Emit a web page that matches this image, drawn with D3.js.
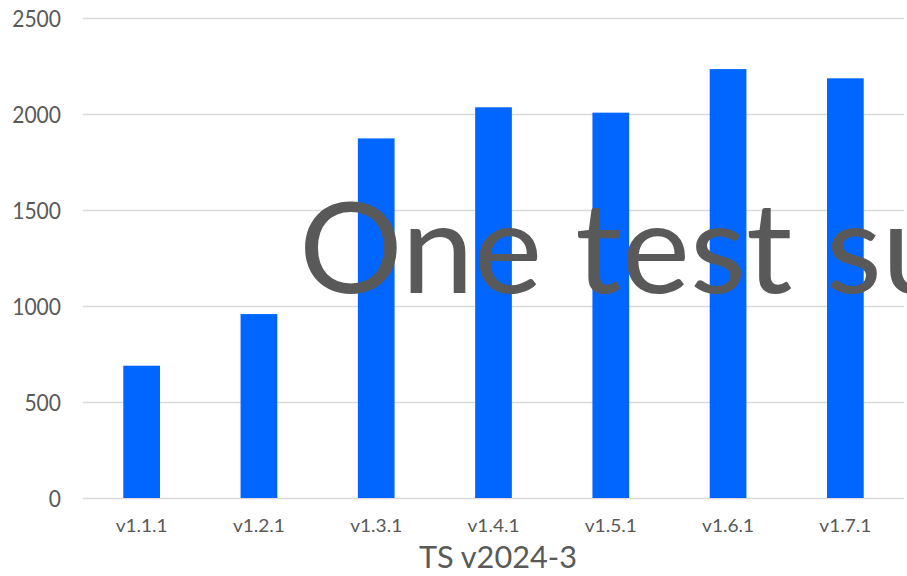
<!DOCTYPE html>
<html>
<head>
<meta charset="utf-8">
<script src="https://cdn.jsdelivr.net/npm/d3@7/dist/d3.min.js"></script>
<style>
  html, body { margin: 0; padding: 0; background: #ffffff; overflow: hidden; }
  svg { display: block; }
  text { font-family: Lato, "Open Sans", sans-serif; fill: #595959; }
</style>
</head>
<body>
<script>
// ---- data ----
const categories = ["v1.1.1", "v1.2.1", "v1.3.1", "v1.4.1", "v1.5.1", "v1.6.1", "v1.7.1"];
const values = [689, 958, 1873, 2035, 2007, 2234, 2186];
const yTicks = [0, 500, 1000, 1500, 2000, 2500];
const xAxisTitle = "TS v2024-3";
const overlayText = "One test su";

// ---- layout ----
const W = 907, H = 576;
const svg = d3.select("body").append("svg").attr("width", W).attr("height", H);

const x = d3.scaleBand().domain(categories).range([83, 904])
  .paddingInner(0.687).paddingOuter(0.3435);
const y = d3.scaleLinear().domain([0, 2500]).range([498, 18]);

// gridlines via axis
const grid = svg.append("g").attr("transform", "translate(83,0)")
  .call(d3.axisLeft(y).tickValues(yTicks).tickSize(-(904 - 83)).tickFormat(""));
grid.select(".domain").remove();
grid.selectAll(".tick line").attr("stroke", "#d9d9d9").attr("stroke-width", 1.4);

// y tick labels
const yAx = svg.append("g").attr("transform", "translate(61,0)")
  .call(d3.axisLeft(y).tickValues(yTicks).tickFormat(d3.format("d")).tickSize(0).tickPadding(0));
yAx.select(".domain").remove();
yAx.selectAll(".tick text")
  .attr("fill", "#595959").attr("font-size", 22.5).attr("font-family", "Lato")
  .attr("dy", "0.36em")
  .attr("textLength", d => String(d).length * 12.2)
  .attr("lengthAdjust", "spacingAndGlyphs");

// bars
svg.append("g").selectAll("rect").data(values).join("rect")
  .attr("x", (d, i) => x(categories[i]))
  .attr("width", x.bandwidth())
  .attr("y", d => y(d))
  .attr("height", d => y(0) - y(d))
  .attr("fill", "#0066ff");

// x tick labels
const xAx = svg.append("g").attr("transform", "translate(0,498)")
  .call(d3.axisBottom(x).tickSize(0).tickPadding(0));
xAx.select(".domain").remove();
xAx.selectAll(".tick text")
  .attr("fill", "#595959").attr("font-size", 16.5).attr("font-family", "Lato")
  .attr("dy", 0).attr("y", 33.7)
  .attr("textLength", 52).attr("lengthAdjust", "spacingAndGlyphs");

// x axis title
svg.append("text")
  .attr("x", 498).attr("y", 568.3)
  .attr("text-anchor", "middle")
  .attr("font-size", 31.5)
  .attr("textLength", 158).attr("lengthAdjust", "spacingAndGlyphs")
  .text(xAxisTitle);

// big overlay text (cut by the right edge, as in the reference)
svg.append("text")
  .attr("x", 299).attr("y", 293)
  .attr("font-size", 127)
  .attr("textLength", 655).attr("lengthAdjust", "spacingAndGlyphs")
  .text(overlayText);
</script>
</body>
</html>
